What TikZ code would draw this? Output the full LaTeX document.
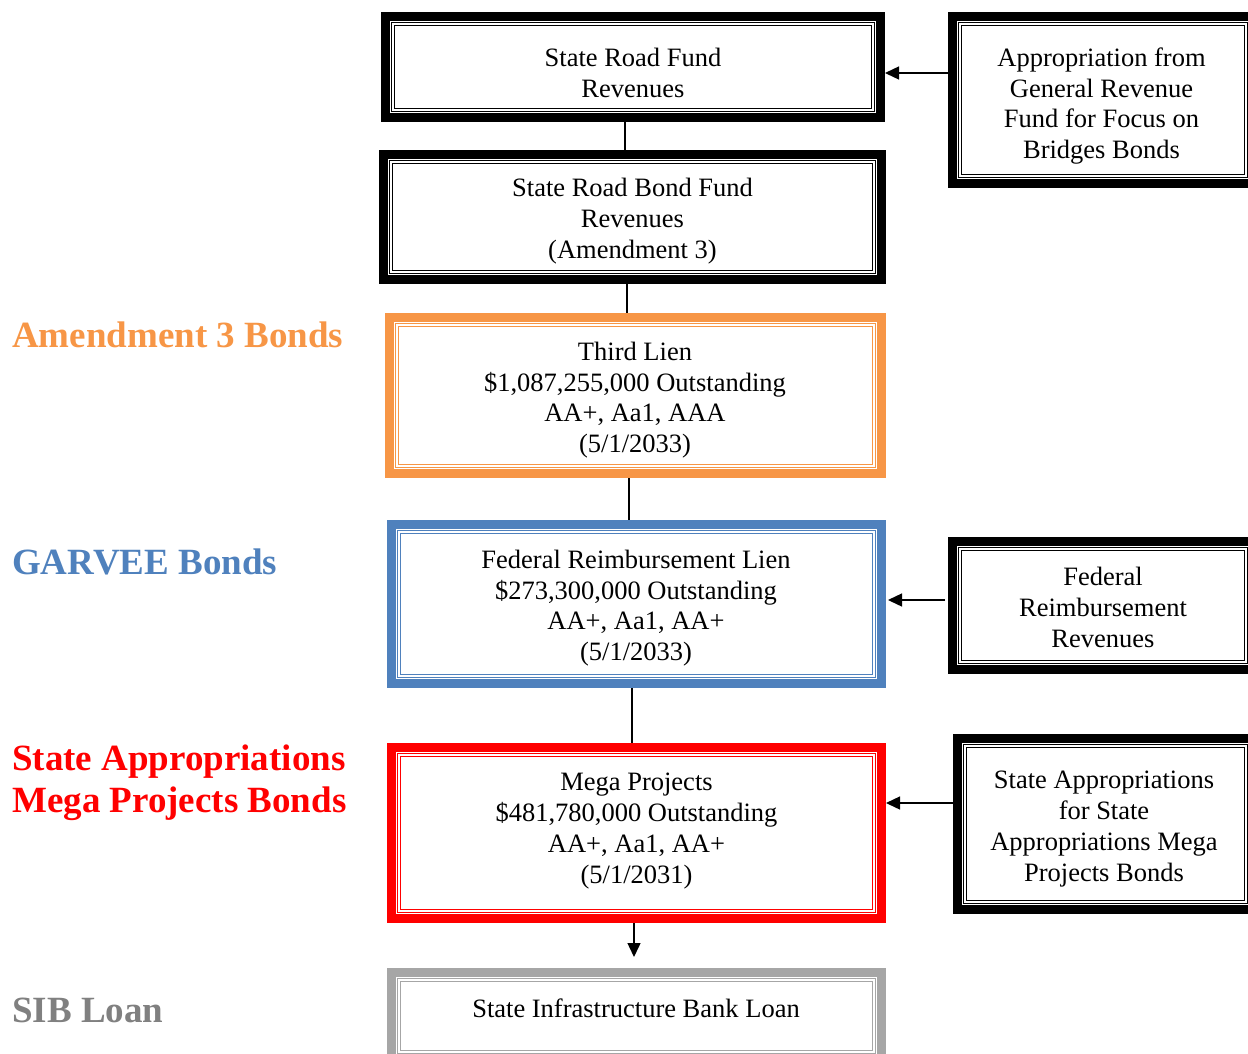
\documentclass[tikz,border=0pt]{standalone}
\usepackage{fontspec}
\setmainfont{Liberation Serif}
\usetikzlibrary{arrows.meta}
\definecolor{borange}{HTML}{F79646}
\definecolor{bblue}{HTML}{4F81BD}
\definecolor{bred}{HTML}{FF0000}
\definecolor{bgray}{HTML}{A6A6A6}
\definecolor{hgray}{HTML}{808080}
\newcommand\tribox[2]{%
  \draw[line width=9pt,#2] ([shift={(4.5,-4.5)}]#1.north west) rectangle ([shift={(-4.5,4.5)}]#1.south east);
  \draw[line width=1pt,#2] ([shift={(10.5,-10.5)}]#1.north west) rectangle ([shift={(-10.5,10.5)}]#1.south east);
  \draw[line width=1.6pt,#2] ([shift={(13.5,-13.5)}]#1.north west) rectangle ([shift={(-13.5,13.5)}]#1.south east);
}
\begin{document}
\begin{tikzpicture}[x=1pt,y=1pt,
  frame/.style={draw=none,inner sep=0pt,outer sep=0pt,minimum width=#1},
  body/.style={inner sep=0pt,align=center,font=\fontsize{26.5}{30.7}\selectfont},
  head/.style={inner sep=0pt,anchor=west,align=left,font=\fontsize{37}{42}\selectfont\bfseries},
  conn/.style={line width=1.6pt},
  arr/.style={line width=1.4pt,-{Triangle[length=14pt,width=13pt]}}]
\useasboundingbox (0,0) rectangle (1248,-1053);
\clip (0,0) rectangle (1248,-1053);
\fill[white] (0,0) rectangle (1248,-1053);
% box frames
\node[frame=504,minimum height=110] (b1) at (633,-67) {};
\node[frame=507,minimum height=134] (b2) at (632.5,-217) {};
\node[frame=501,minimum height=165] (b3) at (635.5,-395.5) {};
\node[frame=499,minimum height=168] (b4) at (636.5,-604) {};
\node[frame=499,minimum height=180] (b5) at (636.5,-833) {};
\node[frame=499,minimum height=96] (b6) at (636.5,-1016) {};
\node[frame=310,minimum height=176] (bA) at (1103,-100) {};
\node[frame=310,minimum height=137] (bB) at (1103,-605.5) {};
\node[frame=305,minimum height=180] (bC) at (1105.5,-824) {};
\tribox{b1}{black}
\tribox{b2}{black}
\tribox{b3}{borange}
\tribox{b4}{bblue}
\tribox{b5}{bred}
\tribox{b6}{bgray}
\tribox{bA}{black}
\tribox{bB}{black}
\tribox{bC}{black}
% texts
\node[body] (t1) at (633,-73) {State Road Fund\\Revenues};
\node[body] (t2) at (632.5,-221) {State Road Bond Fund\\Revenues\\(Amendment 3)};
\node[body] (t3) at (635,-400) {Third Lien\\\$1,087,255,000 Outstanding\\AA+, Aa1, AAA\\(5/1/2033)};
\node[body] (t4) at (636,-608) {Federal Reimbursement Lien\\\$273,300,000 Outstanding\\AA+, Aa1, AA+\\(5/1/2033)};
\node[body] (t5) at (636.5,-831) {Mega Projects\\\$481,780,000 Outstanding\\AA+, Aa1, AA+\\(5/1/2031)};
\node[body] (t6) at (636,-1008) {State Infrastructure Bank Loan};
\node[body] (tA) at (1101.5,-106) {Appropriation from\\General Revenue\\Fund for Focus on\\Bridges Bonds};
\node[body] (tB) at (1103,-607.5) {Federal\\Reimbursement\\Revenues};
\node[body] (tC) at (1104,-829) {State Appropriations\\for State\\Appropriations Mega\\Projects Bonds};
% headings
\node[head,text=borange] (h1) at (12,-335) {Amendment 3 Bonds};
\node[head,text=bblue] (h2) at (12,-562) {GARVEE Bonds};
\node[head,text=bred] (h3) at (12,-783) {State Appropriations\\Mega Projects Bonds};
\node[head,text=hgray] (h4) at (12,-1010) {SIB Loan};
% connectors
\draw[conn] ([xshift=-8]b1.south) -- ([xshift=-8]b1.south |- b2.north);
\draw[conn] ([xshift=-5.5]b2.south) -- ([xshift=-5.5]b2.south |- b3.north);
\draw[conn] ([xshift=-6.5]b3.south) -- ([xshift=-6.5]b3.south |- b4.north);
\draw[conn] ([xshift=-4.5]b4.south) -- ([xshift=-4.5]b4.south |- b5.north);
\draw[arr] ([xshift=-2.5]b5.south) -- ([xshift=-2.5,yshift=11]b5.south |- b6.north);
\draw[arr] ([yshift=27]bA.west) -- ([yshift=27]bA.west -| b1.east);
\draw[arr] ([xshift=-3,yshift=5.5]bB.west) -- ([xshift=2,yshift=5.5]bB.west -| b4.east);
\draw[arr] ([yshift=21]bC.west) -- ([yshift=21]bC.west -| b5.east);
\end{tikzpicture}
\end{document}
